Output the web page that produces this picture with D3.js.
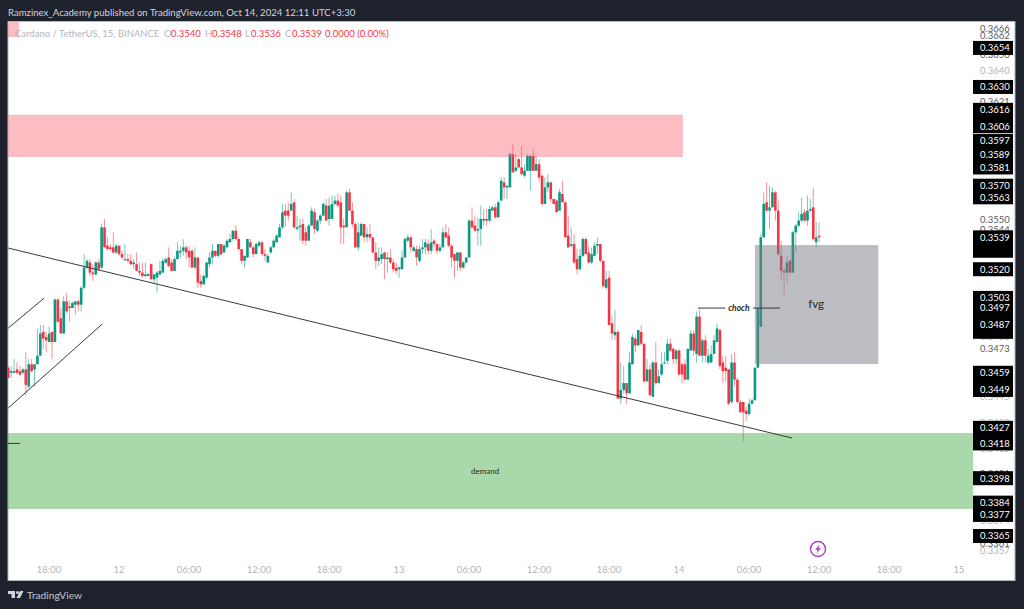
<!DOCTYPE html>
<html>
<head>
<meta charset="utf-8">
<title>Cardano / TetherUS</title>
<script src="https://cdn.jsdelivr.net/npm/d3@7"></script>
<style>
  body { margin: 0; background: #1e222d; overflow: hidden; }
  text { font-family: Lato, sans-serif; }
</style>
</head>
<body>
<div id="chart"></div>
<script>
// Prices are kept in ticks of 0.0001, one row per 10 bars of 15 minutes
const firstBar = Date.UTC(2024, 9, 11, 14, 30);
const tick = 0.0001;

const opens = [
  3462,3459,3459,3461,3460,3459,3461,3451,3464,3461,
  3464,3469,3483,3480,3477,3483,3477,3502,3491,3482,
  3501,3498,3497,3499,3501,3499,3509,3521,3524,3518,
  3517,3524,3521,3545,3534,3533,3533,3530,3534,3529,
  3526,3526,3525,3523,3523,3519,3518,3516,3516,3523,
  3514,3515,3517,3518,3524,3527,3524,3519,3526,3530,
  3531,3533,3531,3531,3521,3527,3513,3511,3515,3523,
  3527,3531,3528,3535,3530,3533,3536,3538,3543,3538,
  3532,3525,3527,3536,3533,3529,3534,3536,3529,3524,
  3530,3533,3536,3539,3545,3555,3555,3555,3560,3544,
  3545,3547,3542,3537,3546,3554,3543,3549,3552,3558,
  3550,3550,3559,3561,3560,3546,3545,3566,3555,3547,
  3533,3540,3547,3539,3541,3539,3530,3525,3526,3530,
  3526,3527,3524,3521,3520,3520,3527,3537,3539,3531,
  3532,3525,3532,3533,3535,3531,3537,3535,3531,3533,
  3542,3540,3534,3529,3525,3530,3521,3524,3527,3549,
  3546,3543,3544,3549,3550,3549,3555,3557,3551,3561,
  3572,3569,3569,3589,3579,3586,3581,3576,3579,3579,
  3588,3579,3583,3576,3559,3569,3572,3562,3561,3555,
  3565,3560,3540,3534,3535,3526,3520,3528,3538,3530,
  3524,3528,3534,3535,3525,3509,3515,3488,3481,3483,
  3444,3449,3453,3447,3464,3479,3475,3483,3476,3454,
  3461,3445,3465,3453,3458,3465,3466,3476,3473,3467,
  3472,3464,3464,3455,3472,3482,3470,3492,3469,3478,
  3465,3465,3470,3477,3484,3465,3462,3461,3442,3465,
  3455,3442,3442,3437,3435,3441,3443,3462,3486,3539,
  3560,3555,3557,3566,3555,3528,3519,3518,3525,3518,
  3542,3546,3549,3554,3549,3555,3557,3536,3540
];
const highs = [
  3463,3463,3467,3465,3463,3462,3471,3467,3467,3464,
  3485,3487,3487,3483,3486,3483,3503,3503,3497,3504,
  3506,3501,3501,3501,3502,3510,3529,3526,3526,3523,
  3525,3526,3547,3550,3539,3535,3542,3535,3534,3531,
  3535,3529,3529,3526,3530,3524,3524,3524,3518,3523,
  3517,3519,3525,3527,3527,3533,3526,3527,3536,3534,
  3538,3534,3534,3532,3533,3527,3517,3517,3524,3530,
  3535,3531,3535,3535,3535,3538,3541,3543,3546,3539,
  3532,3528,3538,3538,3534,3536,3537,3537,3532,3529,
  3534,3538,3541,3547,3559,3559,3560,3566,3562,3552,
  3550,3550,3545,3547,3557,3556,3550,3553,3560,3562,
  3563,3564,3564,3565,3564,3550,3567,3568,3560,3548,
  3548,3548,3547,3545,3547,3539,3536,3533,3533,3530,
  3530,3532,3526,3524,3522,3531,3539,3541,3540,3534,
  3534,3534,3538,3538,3538,3544,3538,3535,3535,3545,
  3547,3545,3535,3529,3530,3530,3525,3527,3550,3557,
  3552,3551,3558,3556,3556,3558,3558,3559,3561,3575,
  3575,3570,3590,3595,3589,3587,3594,3583,3589,3589,
  3592,3588,3586,3577,3575,3577,3572,3562,3562,3568,
  3573,3560,3552,3545,3541,3532,3532,3539,3539,3534,
  3533,3536,3539,3535,3525,3519,3519,3492,3496,3484,
  3465,3463,3453,3471,3482,3481,3484,3487,3476,3467,
  3464,3466,3477,3461,3471,3471,3479,3479,3474,3473,
  3473,3465,3467,3473,3484,3484,3495,3496,3479,3481,
  3473,3475,3481,3488,3485,3469,3469,3461,3470,3471,
  3456,3443,3442,3439,3444,3444,3462,3497,3541,3566,
  3572,3570,3569,3567,3561,3537,3521,3528,3526,3543,
  3547,3554,3563,3556,3564,3562,3569,3548,3548
];
const lows = [
  3456,3456,3459,3458,3457,3458,3446,3450,3459,3451,
  3464,3469,3473,3471,3477,3467,3477,3488,3482,3482,
  3494,3489,3497,3493,3495,3495,3508,3520,3516,3513,
  3516,3519,3520,3533,3531,3531,3529,3529,3528,3526,
  3525,3524,3522,3520,3519,3516,3515,3515,3516,3514,
  3511,3506,3516,3518,3523,3521,3519,3519,3526,3527,
  3528,3526,3521,3521,3520,3509,3509,3511,3514,3521,
  3523,3527,3527,3528,3530,3533,3536,3537,3537,3531,
  3523,3521,3527,3533,3527,3529,3533,3528,3525,3524,
  3529,3533,3536,3539,3544,3545,3549,3555,3544,3543,
  3537,3535,3534,3537,3546,3541,3542,3547,3552,3549,
  3546,3550,3558,3557,3535,3535,3545,3555,3545,3533,
  3531,3540,3536,3536,3537,3529,3520,3522,3523,3514,
  3518,3523,3518,3517,3515,3520,3527,3536,3530,3530,
  3522,3524,3529,3529,3529,3529,3533,3529,3530,3533,
  3538,3533,3521,3515,3519,3519,3520,3523,3527,3544,
  3542,3534,3534,3546,3546,3548,3555,3550,3551,3561,
  3562,3562,3569,3578,3578,3581,3576,3575,3579,3567,
  3579,3579,3573,3558,3559,3566,3560,3559,3554,3555,
  3560,3539,3533,3533,3523,3517,3519,3527,3529,3523,
  3523,3528,3529,3524,3509,3508,3487,3478,3478,3444,
  3441,3447,3441,3447,3464,3471,3475,3475,3453,3454,
  3445,3445,3452,3453,3457,3464,3464,3471,3464,3464,
  3457,3453,3455,3455,3472,3469,3465,3469,3465,3465,
  3464,3465,3470,3477,3461,3453,3454,3440,3441,3451,
  3441,3436,3419,3431,3434,3441,3443,3462,3486,3539,
  3554,3544,3557,3549,3528,3513,3505,3512,3517,3518,
  3530,3545,3548,3548,3546,3554,3537,3533,3536
];
const closes = [
  3456,3460,3460,3459,3458,3461,3452,3464,3460,3464,
  3469,3482,3479,3478,3482,3477,3502,3489,3482,3501,
  3495,3497,3500,3501,3499,3509,3521,3525,3518,3517,
  3524,3520,3545,3533,3532,3532,3530,3534,3529,3527,
  3526,3525,3523,3524,3519,3518,3516,3517,3517,3514,
  3517,3518,3519,3525,3526,3522,3519,3526,3531,3531,
  3533,3530,3527,3521,3527,3512,3511,3516,3524,3527,
  3531,3528,3535,3529,3534,3537,3538,3543,3538,3532,
  3525,3528,3538,3533,3529,3535,3536,3529,3528,3528,
  3533,3537,3540,3545,3554,3552,3552,3559,3545,3545,
  3546,3537,3537,3546,3555,3544,3549,3552,3559,3549,
  3558,3559,3561,3558,3545,3545,3566,3555,3547,3533,
  3542,3547,3539,3541,3539,3530,3525,3527,3529,3526,
  3527,3524,3520,3519,3521,3527,3538,3539,3533,3533,
  3527,3532,3533,3536,3531,3536,3535,3531,3533,3542,
  3539,3534,3527,3525,3530,3521,3524,3527,3549,3545,
  3543,3544,3550,3550,3549,3556,3557,3551,3560,3573,
  3569,3570,3589,3578,3581,3581,3577,3579,3588,3588,
  3579,3583,3575,3559,3569,3572,3562,3559,3554,3566,
  3560,3539,3533,3535,3524,3520,3528,3538,3529,3524,
  3529,3534,3535,3525,3510,3514,3487,3482,3483,3444,
  3449,3453,3447,3465,3480,3475,3484,3476,3454,3461,
  3446,3465,3453,3457,3464,3465,3476,3472,3467,3472,
  3458,3458,3455,3473,3482,3472,3492,3469,3478,3469,
  3469,3470,3478,3485,3463,3460,3460,3441,3465,3455,
  3442,3436,3436,3435,3441,3443,3462,3497,3539,3559,
  3555,3557,3566,3555,3529,3519,3518,3524,3518,3542,
  3546,3549,3553,3549,3555,3556,3538,3539,3539
];

// Levels printed on the price scale
const boxedPrices = [0.3654,0.3630,0.3616,0.3606,0.3597,0.3589,0.3581,0.3570,0.3563,0.3539,0.3520,0.3503,0.3497,0.3487,0.3459,0.3449,0.3427,0.3418,0.3398,0.3384,0.3377,0.3365];
// Boxes whose own label is covered by the next one, only the black shows
const blankBoxes = [0.3611,0.3531,0.3492,0.3483,0.3454,0.3423];
const darkPrices = [0.3666,0.3662,0.3650,0.3621,0.3550,0.3544,0.3473,0.3401,0.3361];
const faintPrices = [0.3640,0.3613,0.3537,0.3480,0.3445,0.3430,0.3424,0.3415,0.3374,0.3357];

// Drawings, in bar numbers and prices
const redZones = [[0, 231.3, 0.3613, 0.35873], [0, 3.7, 0.37, 0.36607]];
const greenZone = [-5, 335, 0.3424, 0.33804];
const greyZone = [256, 298.3, 0.35344, 0.34641];
const lines = [
  [0, 0.35326, 268.7, 0.34211],
  [0, 0.34385, 32.2, 0.34876],
  [0, 0.34852, 12.3, 0.35029],
  [-3, 0.3418, 4, 0.3418],
  [236.5, 0.3497, 264.6, 0.3497]
];
const notes = [
  { text: "choch", bar: 250.5, price: 0.3497, size: 8.5, style: "italic", weight: 700 },
  { text: "fvg", bar: 277, price: 0.34994, size: 11.5, style: "normal", weight: 400 },
  { text: "demand", bar: 163.5, price: 0.34021, size: 8, style: "normal", weight: 400 }
];

const timeTicks = [
  Date.UTC(2024,9,11,18), Date.UTC(2024,9,12,0), Date.UTC(2024,9,12,6), Date.UTC(2024,9,12,12),
  Date.UTC(2024,9,12,18), Date.UTC(2024,9,13,0), Date.UTC(2024,9,13,6), Date.UTC(2024,9,13,12),
  Date.UTC(2024,9,13,18), Date.UTC(2024,9,14,0), Date.UTC(2024,9,14,6), Date.UTC(2024,9,14,12),
  Date.UTC(2024,9,14,18), Date.UTC(2024,9,15,0)
];

const legendParts = [
  ["Cardano / TetherUS, 15, BINANCE", 15, "#b2b5be"],
  ["O", 164, "#b2b5be"], ["0.3540", 171, "#f23645"],
  ["H", 205, "#b2b5be"], ["0.3548", 212, "#f23645"],
  ["L", 245, "#b2b5be"], ["0.3536", 251, "#f23645"],
  ["C", 285, "#b2b5be"], ["0.3539", 292, "#f23645"],
  ["0.0000 (0.00%)", 325, "#f23645"]
];

const width = 1024, height = 609;
const barTime = i => new Date(firstBar + i * 15 * 60000);

const svg = d3.select("#chart").append("svg")
  .attr("width", width).attr("height", height)
  .style("display", "block");

svg.append("rect").attr("width", width).attr("height", height).attr("fill", "#1e222d");

// White panel
svg.append("rect").attr("x", 8).attr("y", 21.5).attr("width", 1007).attr("height", 559)
  .attr("fill", "#fff").attr("stroke", "#b2b5be");

const x = d3.scaleUtc()
  .domain([Date.UTC(2024,9,12), Date.UTC(2024,9,15)])
  .range([119.1, 959.1]);
const y = d3.scaleLog()
  .domain([0.3365, 0.3666])
  .range([536, 28.5]);

svg.append("clipPath").attr("id", "pane").append("rect")
  .attr("x", 8).attr("y", 22).attr("width", 965).attr("height", 558);

const pane = svg.append("g").attr("clip-path", "url(#pane)");

// Candles
const bars = d3.range(opens.length);
const up = i => closes[i] >= opens[i];
const color = i => up(i) ? "#089981" : "#f23645";

pane.selectAll("line.wick").data(bars).enter().append("line")
  .attr("class", "wick")
  .attr("x1", i => x(barTime(i))).attr("x2", i => x(barTime(i)))
  .attr("y1", i => y(highs[i] * tick)).attr("y2", i => y(lows[i] * tick))
  .attr("stroke", color).attr("stroke-opacity", 0.55).attr("stroke-width", 1);

pane.selectAll("rect.body").data(bars).enter().append("rect")
  .attr("class", "body")
  .attr("x", i => x(barTime(i)) - 1.3).attr("width", 2.6)
  .attr("y", i => y(Math.max(opens[i], closes[i]) * tick))
  .attr("height", i => Math.max(1, Math.abs(y(opens[i] * tick) - y(closes[i] * tick))))
  .attr("fill", color);

// Zones sit over the candles, as they do on the chart
function addZone(z, fill, opacity) {
  pane.append("rect")
    .attr("x", x(barTime(z[0]))).attr("width", x(barTime(z[1])) - x(barTime(z[0])))
    .attr("y", y(z[2])).attr("height", y(z[3]) - y(z[2]))
    .attr("fill", fill).attr("fill-opacity", opacity);
}
redZones.forEach(z => addZone(z, "#f7525f", 0.38));
addZone(greenZone, "#4caf50", 0.48);
addZone(greyZone, "#787b86", 0.5);

pane.selectAll("line.drawing").data(lines).enter().append("line")
  .attr("class", "drawing")
  .attr("x1", d => x(barTime(d[0]))).attr("y1", d => y(d[1]))
  .attr("x2", d => x(barTime(d[2]))).attr("y2", d => y(d[3]))
  .attr("stroke", "#3a3a3a").attr("stroke-width", 1);

// Notes, choch gets a white patch so that it breaks its line
const noteText = pane.selectAll("text.note").data(notes).enter().append("text")
  .attr("class", "note")
  .attr("x", d => x(barTime(d.bar))).attr("y", d => y(d.price))
  .attr("dy", "0.35em").attr("text-anchor", "middle")
  .attr("font-size", d => d.size).attr("font-style", d => d.style).attr("font-weight", d => d.weight)
  .attr("fill", "#2a2a2a")
  .text(d => d.text);
const chochBox = noteText.filter(d => d.text == "choch").node().getBBox();
pane.insert("rect", "text.note")
  .attr("x", chochBox.x - 3).attr("y", chochBox.y)
  .attr("width", chochBox.width + 6).attr("height", chochBox.height)
  .attr("fill", "#fff");

// Time axis
const xAxis = d3.axisBottom(x)
  .tickValues(timeTicks.map(t => new Date(t)))
  .tickSize(0)
  .tickFormat(d => d.getUTCHours() == 0 ? String(d.getUTCDate()) : d3.utcFormat("%H:%M")(d));
svg.append("g")
  .attr("transform", "translate(-0.6,563.5)")
  .call(xAxis)
  .call(g => g.select(".domain").remove())
  .selectAll("text")
  .attr("font-size", 9.5).attr("fill", "#b2b5be").attr("font-family", "Lato");

// Price scale: ticks first, the black boxes hide most of them
function priceAxis(values, fill) {
  svg.append("g")
    .attr("transform", "translate(980,0)")
    .call(d3.axisRight(y).tickValues(values).tickSize(0).tickPadding(0).tickFormat(d3.format(".4f")))
    .call(g => g.select(".domain").remove())
    .selectAll("text")
    .attr("font-size", 9.5).attr("fill", fill).attr("font-family", "Lato");
}
priceAxis(faintPrices, "#b2b5be");
priceAxis(darkPrices, "#555a66");

svg.selectAll("rect.blank").data(blankBoxes).enter().append("rect")
  .attr("class", "blank")
  .attr("x", 973).attr("y", d => y(d) - 7).attr("width", 40).attr("height", 14)
  .attr("fill", "#000");

const boxes = svg.selectAll("g.box").data(boxedPrices).enter().append("g")
  .attr("class", "box")
  .attr("transform", d => "translate(973," + y(d) + ")");
boxes.append("rect").attr("y", -7).attr("width", 40).attr("height", 14).attr("fill", "#000");
boxes.append("text")
  .attr("x", 7).attr("dy", "0.35em")
  .attr("font-size", 9.5).attr("fill", "#fff")
  .text(d3.format(".4f"));

// Header and legend
svg.append("text").attr("x", 8).attr("y", 15.5)
  .attr("font-size", 9.6).attr("fill", "#d1d4dc")
  .text("Ramzinex_Academy published on TradingView.com, Oct 14, 2024 12:11 UTC+3:30");

svg.selectAll("text.legend").data(legendParts).enter().append("text")
  .attr("class", "legend")
  .attr("x", d => d[1]).attr("y", 37)
  .attr("font-size", 9.5).attr("fill", d => d[2])
  .text(d => d[0]);

// Publish icon
const bolt = svg.append("g").attr("transform", "translate(818,549)");
bolt.append("circle").attr("r", 7.5).attr("fill", "none").attr("stroke", "#ab47bc").attr("stroke-width", 1.5);
bolt.append("path").attr("d", "M1.5,-4.5 L-3,0.8 L-0.5,0.8 L-1.5,4.5 L3,-0.8 L0.5,-0.8 Z").attr("fill", "#ab47bc");

// Footer logo
const logo = svg.append("g").attr("transform", "translate(8,591)").attr("fill", "#d1d4dc");
logo.append("path").attr("d", "M0,0 H7 V7 H3.5 V3 H0 Z");
logo.append("circle").attr("cx", 9.5).attr("cy", 1.5).attr("r", 1.5);
logo.append("path").attr("d", "M12,0 H15.5 L12,7 H8.5 Z");
svg.append("text").attr("x", 27).attr("y", 599)
  .attr("font-size", 10.2).attr("fill", "#c3c6ce")
  .text("TradingView");
</script>
</body>
</html>
